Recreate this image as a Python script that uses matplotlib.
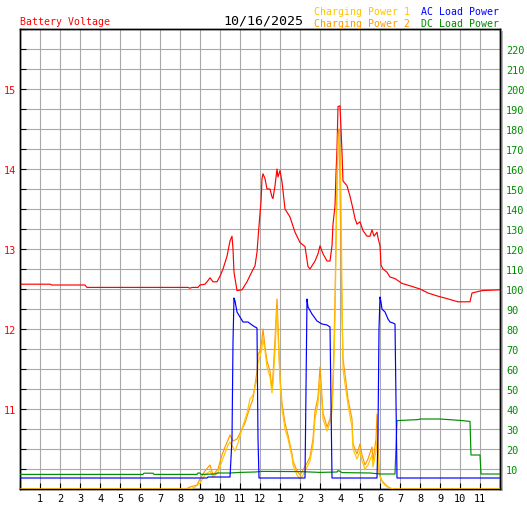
import matplotlib
matplotlib.use("Agg")
import matplotlib.pyplot as plt
from matplotlib.ticker import FixedLocator, NullFormatter
from matplotlib.patches import Rectangle

plt.rcParams['font.family'] = ['DejaVu Sans Mono']

# ---------------- data ----------------
date_label = "10/16/2025"
x_tick_hours = list(range(1, 24))
x_tick_labels = ['1', '2', '3', '4', '5', '6', '7', '8', '9', '10', '11', '12',
                 '1', '2', '3', '4', '5', '6', '7', '8', '9', '10', '11']
volt_ticks = [11, 12, 13, 14, 15]
power_ticks = list(range(10, 230, 10))

volt_h = [0.00, 1.50, 1.60, 3.25, 3.35, 8.40, 8.50, 8.60, 8.90, 9.00, 9.25, 9.35, 9.50, 9.65,
          9.85, 10.00, 10.15, 10.35, 10.50, 10.60, 10.65, 10.70, 10.85, 11.10, 11.35, 11.60,
          11.75, 11.85, 11.95, 12.05, 12.10, 12.15, 12.25, 12.35, 12.50, 12.60, 12.65, 12.75,
          12.85, 12.90, 13.00, 13.10, 13.25, 13.50, 13.75, 14.00, 14.25, 14.40, 14.50, 14.75,
          14.90, 15.00, 15.15, 15.35, 15.50, 15.60, 15.65, 15.75, 15.80, 15.85, 15.90, 16.00,
          16.05, 16.10, 16.15, 16.35, 16.50, 16.65, 16.75, 16.85, 17.00, 17.15, 17.35, 17.50,
          17.60, 17.70, 17.85, 17.90, 18.00, 18.05, 18.15, 18.35, 18.50, 18.75, 19.10, 19.50,
          20.00, 20.40, 20.90, 21.35, 21.90, 22.50, 22.60, 23.10, 24.00]
volt_v = [12.56, 12.56, 12.55, 12.55, 12.52, 12.52, 12.51, 12.52, 12.52, 12.55, 12.56, 12.59,
          12.64, 12.59, 12.59, 12.66, 12.75, 12.91, 13.10, 13.16, 13.00, 12.71, 12.48, 12.49,
          12.59, 12.72, 12.79, 12.96, 13.29, 13.59, 13.88, 13.94, 13.88, 13.75, 13.75, 13.65,
          13.63, 13.79, 14.00, 13.90, 13.98, 13.84, 13.50, 13.40, 13.21, 13.08, 13.03, 12.78,
          12.75, 12.85, 12.94, 13.04, 12.94, 12.85, 12.85, 13.04, 13.31, 13.54, 13.94, 14.25,
          14.78, 14.79, 14.50, 14.21, 13.85, 13.79, 13.66, 13.50, 13.38, 13.31, 13.34, 13.23,
          13.16, 13.16, 13.24, 13.16, 13.21, 13.14, 13.04, 12.80, 12.75, 12.71, 12.65, 12.63,
          12.57, 12.54, 12.50, 12.45, 12.41, 12.38, 12.34, 12.34, 12.45, 12.48, 12.49]

ac_h = [0.0, 9.35, 9.40, 10.50, 10.60, 10.65, 10.70, 10.75, 10.85, 11.00, 11.15, 11.40, 11.60,
        11.75, 11.85, 11.90, 11.95, 14.25, 14.30, 14.35, 14.40, 14.60, 14.85, 15.10, 15.35,
        15.50, 15.55, 15.60, 17.85, 17.90, 17.95, 18.00, 18.05, 18.10, 18.25, 18.40, 18.50,
        18.65, 18.75, 18.80, 18.85, 24.0]
ac_p = [5.5, 5.5, 6.0, 6.0, 25.0, 73.5, 95.5, 94.0, 88.5, 86.0, 83.5, 83.5, 82.0,
        81.0, 80.5, 25.0, 5.5, 5.5, 50.0, 95.0, 91.0, 87.5, 84.0, 82.5, 82.0,
        81.0, 43.5, 5.5, 5.5, 28.5, 80.0, 96.0, 93.5, 90.0, 88.5, 85.0, 83.5,
        83.0, 82.5, 44.0, 5.5, 5.5]

dc_h = [0.0, 6.15, 6.20, 6.65, 6.70, 8.85, 8.90, 9.00, 9.05, 9.75, 9.85, 10.50, 11.00, 11.75,
        12.10, 14.00, 15.00, 15.85, 15.90, 16.00, 16.10, 17.50, 18.00, 18.75, 18.80, 18.85,
        19.90, 20.00, 21.00, 22.00, 22.50, 22.55, 23.00, 23.05, 24.0]
dc_p = [7.3, 7.3, 7.9, 7.9, 7.3, 7.3, 8.0, 8.0, 7.3, 7.5, 8.0, 8.0, 8.3, 8.5,
        8.8, 8.7, 8.3, 8.5, 9.2, 8.8, 8.2, 8.0, 7.5, 7.5, 21.0, 34.2,
        34.7, 35.0, 35.0, 34.3, 33.8, 17.0, 17.0, 7.5, 7.5]

chg2_h = [0.0, 8.30, 8.50, 8.85, 9.00, 9.25, 9.50, 9.65, 9.90, 10.10, 10.25, 10.40, 10.50, 10.65,
          10.85, 11.00, 11.25, 11.50, 11.65, 11.85, 11.90, 12.00, 12.10, 12.15, 12.25, 12.35,
          12.50, 12.60, 12.65, 12.75, 12.85, 12.90, 13.00, 13.10, 13.25, 13.40, 13.60, 13.65,
          13.85, 14.00, 14.15, 14.35, 14.50, 14.65, 14.75, 14.90, 15.00, 15.10, 15.15, 15.35,
          15.50, 15.60, 15.65, 15.70, 15.75, 15.80, 15.85, 15.90, 15.95, 16.00, 16.05, 16.10,
          16.15, 16.25, 16.40, 16.60, 16.65, 16.85, 17.00, 17.10, 17.25, 17.40, 17.60, 17.65,
          17.80, 17.85, 17.90, 17.95, 18.10, 18.25, 18.40, 18.60, 24.0]
chg2_p = [0, 0, 1, 2, 5, 9, 12, 7, 10, 17, 21, 24.5, 27, 24,
          25, 28, 33, 41, 45, 59, 67, 69, 75, 80, 71, 64,
          59, 50, 57, 75, 95, 82, 56, 43, 33, 27, 17.5, 14,
          9, 7, 9.5, 13, 16, 25, 39, 46, 61, 46, 38, 31,
          35, 42, 55, 72, 95, 125, 157.5, 177.5, 180, 152.5, 117.5, 87.5,
          65, 57.5, 45, 35, 22.5, 17.5, 22.5, 17, 12, 15, 21, 14,
          25, 37.5, 25, 8, 4, 2.5, 1, 0, 0]

chg1_h = [0.0, 8.50, 8.75, 9.00, 9.25, 9.50, 9.65, 9.90, 10.10, 10.25, 10.40, 10.50, 10.75,
          10.90, 11.10, 11.35, 11.50, 11.65, 11.85, 11.90, 12.00, 12.10, 12.15, 12.25, 12.35,
          12.50, 12.60, 12.65, 12.75, 12.85, 12.90, 13.00, 13.10, 13.25, 13.40, 13.60, 13.65,
          13.85, 14.00, 14.15, 14.35, 14.50, 14.65, 14.75, 14.90, 15.00, 15.10, 15.15, 15.35,
          15.50, 15.60, 15.65, 15.70, 15.75, 15.80, 15.85, 15.90, 15.95, 16.00, 16.05, 16.10,
          16.15, 16.25, 16.40, 16.60, 16.65, 16.85, 17.00, 17.10, 17.25, 17.40, 17.60, 17.65,
          17.80, 17.85, 17.90, 18.00, 18.15, 18.30, 18.50, 18.70, 24.0]
chg1_p = [0, 0, 1, 3, 7, 9, 6, 8, 14, 18, 22, 23.5, 19,
          23, 30, 38, 45, 47, 55, 63, 66, 71, 75, 69, 61,
          56, 48, 53, 69, 90, 78, 54, 40, 30, 25, 16, 12,
          7, 5, 7, 11, 14, 22, 35, 43, 55, 43, 35, 29,
          33, 39, 49, 65, 85, 120, 150, 170, 176.5, 170, 145, 100,
          60, 52.5, 42, 31, 20, 15, 19, 14, 10, 12, 17, 11,
          19, 25, 15, 6, 3, 1.5, 0.5, 0, 0]

# ---------------- style ----------------
RED = '#ff0000'
BLUE = '#0000ff'
GREEN = '#008c00'
GOLD = '#ffc400'
ORANGE = '#ff9900'
GRID = '#a8a8a8'
LW = 0.85
FS = 7.1

W, H = 527, 510
fig = plt.figure(figsize=(W / 100, H / 100), dpi=100)
fig.patch.set_facecolor('white')

# drop shadow on the right of the plot frame
fig.add_artist(Rectangle((501 / W, (H - 492) / H), 2 / W, 460 / H,
                         transform=fig.transFigure, color='#b4b4b4', lw=0, zorder=0))

ax = fig.add_axes([20 / W, 20 / H, 480 / W, 460 / H])
ax.set_xlim(0, 24)
ax.set_ylim(10, 15.75)
ax.set_facecolor('white')

ax.xaxis.set_major_locator(FixedLocator(x_tick_hours))
ax.set_xticklabels(x_tick_labels)
ax.xaxis.set_minor_locator(FixedLocator([0, 24]))
ax.yaxis.set_major_locator(FixedLocator(volt_ticks))
ax.yaxis.set_minor_locator(FixedLocator([10 + 0.25 * i for i in range(24)]))
ax.yaxis.set_minor_formatter(NullFormatter())

ax.grid(which='both', color=GRID, lw=0.8, zorder=0)
ax.set_axisbelow(True)
ax.tick_params(axis='x', which='both', direction='in', length=4, width=0.8,
               pad=3, labelsize=FS + 0.3, colors='black')
ax.tick_params(axis='y', which='both', direction='in', length=4, width=0.8,
               pad=3, labelsize=FS + 0.3, labelcolor=RED, color='black')
for s in ax.spines.values():
    s.set_color('black')
    s.set_linewidth(1.0)

ax.plot(volt_h, volt_v, color=RED, lw=LW, zorder=3)

ax2 = ax.twinx()
ax2.set_ylim(0, 230)
ax2.yaxis.set_major_locator(FixedLocator(power_ticks))
ax2.tick_params(axis='y', direction='in', length=0, pad=4.5, labelsize=FS + 0.3, labelcolor=GREEN)
for s in ax2.spines.values():
    s.set_color('black')
    s.set_linewidth(1.0)

ax2.plot(chg2_h, chg2_p, color=ORANGE, lw=LW, zorder=2)
ax2.plot(chg1_h, chg1_p, color=GOLD, lw=LW, zorder=3)
ax2.plot(dc_h, dc_p, color=GREEN, lw=LW, zorder=4)
ax2.plot(ac_h, ac_p, color=BLUE, lw=LW, zorder=5)

def ftxt(x, y, s, color, size=FS, ha='left'):
    fig.text(x / W, (H - y) / H, s, color=color, fontsize=size, ha=ha, va='baseline')

ftxt(20, 25, "Battery Voltage", RED)
ftxt(263, 25, date_label, 'black', size=9.6, ha='center')
ftxt(314, 15, "Charging Power 1", GOLD)
ftxt(314, 27, "Charging Power 2", ORANGE)
ftxt(499, 15, "AC Load Power", BLUE, ha='right')
ftxt(499, 27, "DC Load Power", GREEN, ha='right')

fig.savefig('out.png', dpi=100, facecolor='white')
